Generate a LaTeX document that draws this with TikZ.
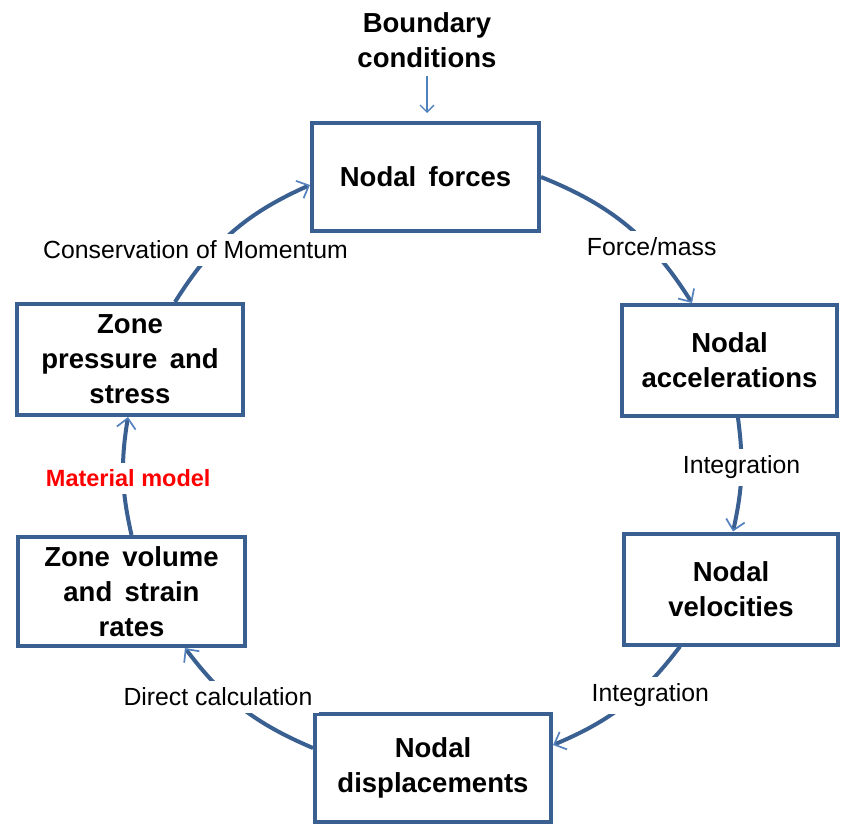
\documentclass[tikz,border=0pt]{standalone}
\usepackage{fontspec}
\setmainfont{Liberation Sans}
\usetikzlibrary{arrows.meta,calc}
\definecolor{boxblue}{RGB}{58,96,146}
\definecolor{tipblue}{RGB}{84,130,190}
\definecolor{bcblue}{RGB}{79,129,189}
\definecolor{matred}{RGB}{255,0,0}
\newcommand{\ws}{\hspace{0.45em}}
\begin{document}
\begin{tikzpicture}[x=1pt,y=1pt,
  box/.style={draw=boxblue, line width=4pt, align=center,
    font=\fontsize{27.5}{35}\selectfont\bfseries, inner sep=0pt},
  lbl/.style={fill=white, font=\fontsize{24.8}{28}\selectfont, inner sep=7pt},
  conn/.style={draw=boxblue, line width=4pt,
    -{Straight Barb[length=10pt,width=19pt,line width=1.7pt,color=tipblue]}},
]
\useasboundingbox (0,0) rectangle (841,-827);

\node[align=center, font=\fontsize{27.5}{35}\selectfont\bfseries, inner sep=0pt] (bc) at (427,-40) {Boundary\\conditions};

\node[box, minimum width=227pt, minimum height=108pt] (forces) at (425.5,-177) {Nodal\ws forces};
\node[box, minimum width=215pt, minimum height=111pt] (acc) at (729.5,-360.5) {Nodal\\accelerations};
\node[box, minimum width=214pt, minimum height=111pt] (vel) at (731,-589) {Nodal\\velocities};
\node[box, minimum width=236pt, minimum height=108pt] (disp) at (433,-768) {Nodal\\displacements};
\node[box, minimum width=227pt, minimum height=109pt] (zvol) at (131.5,-591.5) {Zone\ws volume\\and\ws strain\\rates};
\node[box, minimum width=226pt, minimum height=111pt] (zpress) at (130,-359.5) {Zone\\pressure\ws and\\stress};

\draw[draw=bcblue, line width=2pt, shorten <=8pt, shorten >=8pt,
  -{Straight Barb[length=7pt,width=14pt,line width=1.4pt]}] (bc.south) -- (bc.south |- forces.north);

\draw[conn] (forces.east) to[bend left=18]
  node[lbl, pos=0.66, xshift=2pt] {Force/mass} ([xshift=72pt]acc.north west);
\draw[conn] ([xshift=8.5pt]acc.south) to[bend left=10]
  node[lbl, pos=0.41, yshift=-2pt] {Integration} ([xshift=2pt]vel.north);
\draw[conn] ([xshift=-51pt]vel.south) to[bend left=15]
  node[lbl, pos=0.34, xshift=8pt, yshift=-6pt] {Integration} ([yshift=23pt]disp.east);
\draw[conn] ([yshift=20pt]disp.west) to[bend left=15]
  node[lbl, pos=0.66, xshift=-5pt, yshift=-5pt] {Direct calculation} ([xshift=53.5pt]zvol.south);
\draw[conn] (zvol.north) to[bend left=11]
  node[lbl, pos=0.48, xshift=5pt, text=matred, font=\fontsize{23.5}{28}\selectfont\bfseries] {Material model} ([xshift=-2pt]zpress.south);
\draw[conn] ([xshift=45pt]zpress.north) to[bend left=17]
  node[lbl, pos=0.30, xshift=-13pt, yshift=6pt] {Conservation of Momentum} ([yshift=-8pt]forces.west);
\end{tikzpicture}
\end{document}
